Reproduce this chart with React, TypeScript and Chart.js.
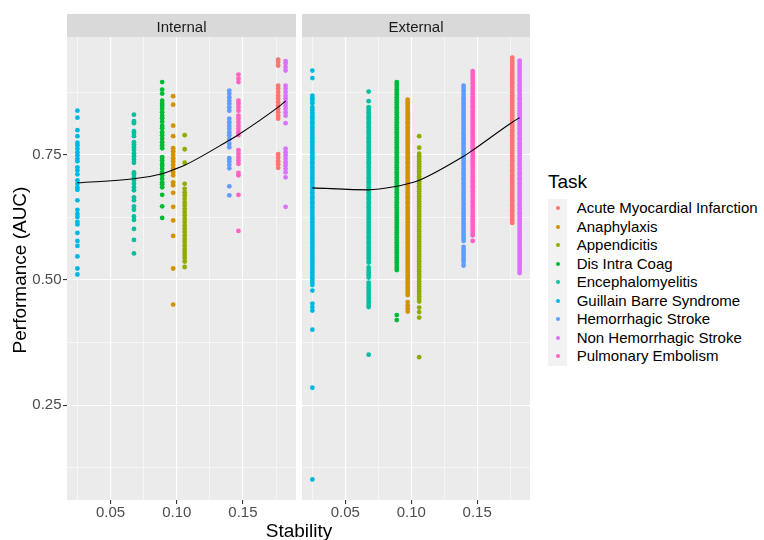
import React, { useEffect, useRef } from "react";
import { Chart, registerables } from "chart.js";
Chart.register(...registerables);

const FONT = "'Liberation Sans', Arial, Helvetica, sans-serif";

const taskNames = [
  "Acute Myocardial Infarction",
  "Anaphylaxis",
  "Appendicitis",
  "Dis Intra Coag",
  "Encephalomyelitis",
  "Guillain Barre Syndrome",
  "Hemorrhagic Stroke",
  "Non Hemorrhagic Stroke",
  "Pulmonary Embolism",
];
const taskColors = ["#F8766D", "#D39200", "#93AA00", "#00BA38", "#00C19F", "#00B9E3", "#619CFF", "#DB72FB", "#FF61C3"];
const taskStability = [0.1766, 0.0973, 0.106, 0.089, 0.0677, 0.025, 0.1397, 0.1822, 0.1466];

// Internal panel
const internalAMI = [0.94, 0.935, 0.928, 0.888, 0.882, 0.875, 0.868, 0.862, 0.855, 0.848, 0.842, 0.835, 0.828, 0.822, 0.751, 0.744, 0.737, 0.731, 0.724];
const internalAnaphylaxis = [0.867, 0.85, 0.808, 0.787, 0.763, 0.757, 0.75, 0.743, 0.737, 0.73, 0.723, 0.715, 0.709, 0.695, 0.689, 0.674, 0.646, 0.619, 0.588, 0.523, 0.451];
const internalAppendicitis = [0.789, 0.761, 0.734, 0.692, 0.682, 0.675, 0.669, 0.662, 0.655, 0.649, 0.642, 0.636, 0.629, 0.622, 0.616, 0.609, 0.602, 0.596, 0.589, 0.582, 0.576, 0.569, 0.562, 0.556, 0.55, 0.544, 0.537, 0.526];
const internalDIC = [0.895, 0.88, 0.872, 0.858, 0.852, 0.848, 0.842, 0.835, 0.828, 0.823, 0.816, 0.808, 0.803, 0.795, 0.789, 0.782, 0.775, 0.769, 0.763, 0.745, 0.739, 0.732, 0.728, 0.722, 0.715, 0.709, 0.702, 0.695, 0.691, 0.685, 0.67, 0.647, 0.624];
const internalEnceph = [0.83, 0.817, 0.813, 0.797, 0.792, 0.787, 0.775, 0.771, 0.765, 0.76, 0.753, 0.747, 0.74, 0.734, 0.715, 0.711, 0.704, 0.699, 0.692, 0.685, 0.679, 0.665, 0.659, 0.647, 0.64, 0.627, 0.62, 0.602, 0.58, 0.553];
const internalGuillain = [0.838, 0.824, 0.799, 0.787, 0.774, 0.769, 0.762, 0.755, 0.749, 0.742, 0.737, 0.725, 0.719, 0.711, 0.699, 0.692, 0.685, 0.68, 0.659, 0.64, 0.632, 0.626, 0.616, 0.611, 0.594, 0.578, 0.568, 0.547, 0.523, 0.511];
const internalHem = [0.878, 0.872, 0.865, 0.858, 0.852, 0.845, 0.838, 0.822, 0.815, 0.808, 0.802, 0.795, 0.789, 0.781, 0.772, 0.765, 0.743, 0.737, 0.73, 0.723, 0.687, 0.669];
const internalNHS = [0.937, 0.932, 0.925, 0.918, 0.888, 0.882, 0.875, 0.868, 0.862, 0.855, 0.848, 0.842, 0.835, 0.828, 0.813, 0.762, 0.755, 0.749, 0.742, 0.735, 0.729, 0.722, 0.715, 0.705, 0.646];
const internalPE = [0.91, 0.902, 0.895, 0.858, 0.852, 0.845, 0.838, 0.828, 0.822, 0.815, 0.808, 0.802, 0.795, 0.789, 0.759, 0.752, 0.745, 0.739, 0.732, 0.714, 0.709, 0.67, 0.598];

// External panel (dense columns read at ~0.005 resolution)
const externalAMI = [0.944, 0.939, 0.934, 0.929, 0.924, 0.919, 0.914, 0.909, 0.904, 0.899, 0.894, 0.889, 0.884, 0.879, 0.874, 0.869, 0.864, 0.859, 0.854, 0.849, 0.844, 0.839, 0.834, 0.829, 0.824, 0.819, 0.814, 0.809, 0.804, 0.799, 0.794, 0.789, 0.784, 0.779, 0.774, 0.769, 0.764, 0.759, 0.754, 0.749, 0.744, 0.739, 0.734, 0.729, 0.724, 0.719, 0.714, 0.709, 0.704, 0.699, 0.694, 0.689, 0.684, 0.679, 0.674, 0.669, 0.664, 0.659, 0.654, 0.649, 0.644, 0.639, 0.634, 0.629, 0.624, 0.619, 0.614];
const externalAnaphylaxis = [0.86, 0.855, 0.85, 0.845, 0.84, 0.835, 0.83, 0.825, 0.82, 0.815, 0.81, 0.805, 0.8, 0.795, 0.79, 0.785, 0.78, 0.775, 0.77, 0.765, 0.76, 0.755, 0.75, 0.745, 0.74, 0.735, 0.73, 0.725, 0.72, 0.715, 0.71, 0.705, 0.7, 0.695, 0.69, 0.685, 0.68, 0.675, 0.67, 0.665, 0.66, 0.655, 0.65, 0.645, 0.64, 0.635, 0.63, 0.625, 0.62, 0.615, 0.61, 0.605, 0.6, 0.595, 0.59, 0.585, 0.58, 0.575, 0.57, 0.565, 0.56, 0.555, 0.55, 0.545, 0.54, 0.535, 0.53, 0.525, 0.52, 0.515, 0.51, 0.505, 0.5, 0.495, 0.49, 0.485, 0.48, 0.475, 0.47, 0.456, 0.449, 0.443, 0.437];
const externalAppendicitis = [0.787, 0.764, 0.752, 0.747, 0.742, 0.737, 0.732, 0.727, 0.722, 0.717, 0.712, 0.707, 0.702, 0.697, 0.692, 0.687, 0.682, 0.677, 0.672, 0.667, 0.662, 0.657, 0.652, 0.647, 0.642, 0.637, 0.632, 0.627, 0.622, 0.617, 0.612, 0.607, 0.602, 0.597, 0.592, 0.587, 0.582, 0.577, 0.572, 0.567, 0.562, 0.557, 0.552, 0.547, 0.542, 0.537, 0.532, 0.527, 0.522, 0.517, 0.512, 0.507, 0.502, 0.497, 0.492, 0.487, 0.482, 0.477, 0.472, 0.467, 0.462, 0.457, 0.445, 0.436, 0.425, 0.346];
const externalDIC = [0.895, 0.89, 0.885, 0.88, 0.875, 0.87, 0.865, 0.86, 0.855, 0.85, 0.845, 0.84, 0.835, 0.83, 0.825, 0.82, 0.815, 0.81, 0.805, 0.8, 0.795, 0.79, 0.785, 0.78, 0.775, 0.77, 0.765, 0.76, 0.755, 0.75, 0.745, 0.74, 0.735, 0.73, 0.725, 0.72, 0.715, 0.71, 0.705, 0.7, 0.695, 0.69, 0.685, 0.68, 0.675, 0.67, 0.665, 0.66, 0.655, 0.65, 0.645, 0.64, 0.635, 0.63, 0.625, 0.62, 0.615, 0.61, 0.605, 0.6, 0.595, 0.59, 0.585, 0.58, 0.575, 0.57, 0.565, 0.56, 0.555, 0.55, 0.545, 0.54, 0.535, 0.53, 0.525, 0.52, 0.43, 0.42];
const externalEnceph = [0.876, 0.857, 0.845, 0.84, 0.835, 0.83, 0.825, 0.82, 0.815, 0.81, 0.805, 0.8, 0.795, 0.79, 0.785, 0.78, 0.775, 0.77, 0.765, 0.76, 0.755, 0.75, 0.745, 0.74, 0.735, 0.73, 0.725, 0.72, 0.715, 0.71, 0.705, 0.7, 0.695, 0.69, 0.685, 0.68, 0.675, 0.67, 0.665, 0.66, 0.655, 0.65, 0.645, 0.64, 0.635, 0.63, 0.625, 0.62, 0.615, 0.61, 0.605, 0.6, 0.595, 0.59, 0.585, 0.58, 0.575, 0.57, 0.565, 0.56, 0.555, 0.55, 0.545, 0.54, 0.535, 0.525, 0.52, 0.515, 0.51, 0.505, 0.495, 0.49, 0.485, 0.48, 0.475, 0.47, 0.465, 0.46, 0.455, 0.45, 0.446, 0.351];
const externalGuillain = [0.918, 0.903, 0.868, 0.863, 0.858, 0.853, 0.845, 0.84, 0.835, 0.83, 0.825, 0.82, 0.815, 0.81, 0.805, 0.8, 0.795, 0.79, 0.785, 0.78, 0.775, 0.77, 0.765, 0.76, 0.755, 0.75, 0.745, 0.74, 0.735, 0.73, 0.725, 0.72, 0.715, 0.71, 0.705, 0.7, 0.695, 0.69, 0.685, 0.68, 0.675, 0.67, 0.665, 0.66, 0.655, 0.65, 0.645, 0.64, 0.635, 0.63, 0.625, 0.62, 0.615, 0.61, 0.605, 0.6, 0.595, 0.59, 0.585, 0.58, 0.575, 0.57, 0.565, 0.56, 0.555, 0.55, 0.545, 0.54, 0.535, 0.53, 0.525, 0.52, 0.515, 0.51, 0.505, 0.5, 0.495, 0.49, 0.479, 0.453, 0.446, 0.439, 0.401, 0.285, 0.102];
const externalHem = [0.888, 0.883, 0.878, 0.873, 0.868, 0.863, 0.858, 0.853, 0.848, 0.843, 0.838, 0.833, 0.828, 0.823, 0.818, 0.813, 0.808, 0.803, 0.798, 0.793, 0.788, 0.783, 0.778, 0.773, 0.768, 0.763, 0.758, 0.753, 0.748, 0.743, 0.738, 0.733, 0.728, 0.723, 0.718, 0.713, 0.708, 0.703, 0.698, 0.693, 0.688, 0.683, 0.678, 0.673, 0.668, 0.663, 0.658, 0.653, 0.648, 0.643, 0.638, 0.633, 0.628, 0.623, 0.618, 0.613, 0.608, 0.603, 0.598, 0.593, 0.588, 0.583, 0.578, 0.566, 0.561, 0.556, 0.551, 0.546, 0.541, 0.536, 0.529];
const externalNHS = [0.938, 0.933, 0.928, 0.923, 0.918, 0.913, 0.908, 0.903, 0.898, 0.893, 0.888, 0.883, 0.878, 0.873, 0.868, 0.863, 0.858, 0.853, 0.848, 0.843, 0.838, 0.833, 0.828, 0.823, 0.818, 0.813, 0.808, 0.803, 0.798, 0.793, 0.788, 0.783, 0.778, 0.773, 0.768, 0.763, 0.758, 0.753, 0.748, 0.743, 0.738, 0.733, 0.728, 0.723, 0.718, 0.713, 0.708, 0.703, 0.698, 0.693, 0.688, 0.683, 0.678, 0.673, 0.668, 0.663, 0.658, 0.653, 0.648, 0.643, 0.638, 0.633, 0.628, 0.623, 0.618, 0.613, 0.608, 0.603, 0.598, 0.593, 0.588, 0.583, 0.578, 0.573, 0.568, 0.563, 0.558, 0.553, 0.548, 0.543, 0.538, 0.533, 0.528, 0.523, 0.518, 0.514];
const externalPE = [0.917, 0.912, 0.907, 0.902, 0.897, 0.892, 0.887, 0.882, 0.877, 0.872, 0.867, 0.862, 0.857, 0.852, 0.847, 0.842, 0.837, 0.832, 0.827, 0.822, 0.817, 0.812, 0.807, 0.802, 0.797, 0.792, 0.787, 0.782, 0.777, 0.772, 0.767, 0.762, 0.757, 0.752, 0.747, 0.742, 0.737, 0.732, 0.727, 0.722, 0.717, 0.712, 0.707, 0.702, 0.697, 0.692, 0.687, 0.682, 0.677, 0.672, 0.667, 0.662, 0.657, 0.652, 0.647, 0.642, 0.637, 0.632, 0.627, 0.622, 0.617, 0.612, 0.607, 0.602, 0.597, 0.592, 0.589, 0.578];

// Smoothed trend lines
const internalCurveX = [0.025, 0.0677, 0.089, 0.0973, 0.106, 0.1397, 0.1466, 0.1766, 0.1822];
const internalCurveY = [0.694, 0.702, 0.712, 0.72, 0.729, 0.779, 0.79, 0.845, 0.857];
const externalCurveX = [0.025, 0.0677, 0.089, 0.0973, 0.106, 0.1397, 0.1466, 0.1766, 0.1822];
const externalCurveY = [0.684, 0.68, 0.687, 0.692, 0.699, 0.747, 0.759, 0.815, 0.824];

const xTickValues = [0.025, 0.05, 0.075, 0.1, 0.125, 0.15, 0.175];
const xMajorTicks = [0.05, 0.1, 0.15];
const yTickValues = [0.125, 0.25, 0.375, 0.5, 0.625, 0.75, 0.875];
const yMajorTicks = [0.25, 0.5, 0.75];

const X_MIN = 0.01714;
const X_MAX = 0.19006;
const Y_MIN = 0.061;
const Y_MAX = 0.985;

const internalValues = [internalAMI, internalAnaphylaxis, internalAppendicitis, internalDIC, internalEnceph, internalGuillain, internalHem, internalNHS, internalPE];
const externalValues = [externalAMI, externalAnaphylaxis, externalAppendicitis, externalDIC, externalEnceph, externalGuillain, externalHem, externalNHS, externalPE];

const isMajor = (v: number, majors: number[]) => majors.some((m) => Math.abs(m - v) < 1e-9);

function panelPlugin(strip: string, drawYTitle: boolean) {
  return {
    id: "panel_" + strip,
    beforeDraw(chart: any) {
      const { ctx, chartArea } = chart;
      ctx.save();
      ctx.fillStyle = "#EBEBEB";
      ctx.fillRect(chartArea.left, chartArea.top, chartArea.right - chartArea.left, chartArea.bottom - chartArea.top);
      ctx.restore();
    },
    afterDraw(chart: any) {
      const { ctx, chartArea } = chart;
      ctx.save();
      ctx.fillStyle = "#D9D9D9";
      ctx.fillRect(chartArea.left, 14, chartArea.right - chartArea.left, chartArea.top - 14);
      ctx.fillStyle = "#1A1A1A";
      ctx.font = `15px ${FONT}`;
      ctx.textAlign = "center";
      ctx.textBaseline = "alphabetic";
      ctx.fillText(strip, (chartArea.left + chartArea.right) / 2, 31.5);
      if (drawYTitle) {
        ctx.translate(25.5, 270);
        ctx.rotate(-Math.PI / 2);
        ctx.fillStyle = "#000000";
        ctx.font = `19px ${FONT}`;
        ctx.fillText("Performance (AUC)", 0, 0);
      }
      ctx.restore();
    },
  };
}

function buildConfig(values: number[][], curveX: number[], curveY: number[], strip: string, isLeft: boolean): any {
  const datasets: any[] = [
    {
      type: "line",
      data: curveX.map((x, i) => ({ x, y: curveY[i] })),
      borderColor: "#000000",
      borderWidth: 1.1,
      pointRadius: 0,
      cubicInterpolationMode: "monotone",
      fill: false,
      order: -1,
    },
  ];
  taskNames.forEach((name, t) => {
    datasets.push({
      type: "scatter",
      label: name,
      data: values[t].map((y) => ({ x: taskStability[t], y })),
      backgroundColor: taskColors[t],
      borderWidth: 0,
      pointRadius: 2.4,
      order: 1,
    });
  });
  return {
    type: "scatter",
    data: { datasets },
    options: {
      animation: false,
      responsive: false,
      events: [],
      layout: { padding: { left: 0, right: isLeft ? 4 : 3, top: 37, bottom: 0 } },
      plugins: { legend: { display: false }, tooltip: { enabled: false } },
      scales: {
        x: {
          type: "linear",
          min: X_MIN,
          max: X_MAX,
          afterBuildTicks: (scale: any) => {
            scale.ticks = xTickValues.map((v) => ({ value: v }));
          },
          afterFit: (scale: any) => {
            scale.height = 40;
          },
          border: { display: false },
          grid: {
            color: "#FFFFFF",
            lineWidth: (c: any) => (isMajor(c.tick?.value, xMajorTicks) ? 1.1 : 0.55),
            tickColor: (c: any) => (isMajor(c.tick?.value, xMajorTicks) ? "#333333" : "rgba(0,0,0,0)"),
            tickWidth: 1.1,
            tickLength: 4,
          },
          ticks: {
            autoSkip: false,
            maxRotation: 0,
            padding: 0,
            color: "#4D4D4D",
            font: { family: FONT, size: 15 },
            callback: (v: any) => (isMajor(Number(v), xMajorTicks) ? Number(v).toFixed(2) : ""),
          },
        },
        y: {
          type: "linear",
          min: Y_MIN,
          max: Y_MAX,
          afterBuildTicks: (scale: any) => {
            scale.ticks = yTickValues.map((v) => ({ value: v }));
          },
          afterFit: (scale: any) => {
            scale.width = isLeft ? 67 : 4;
          },
          border: { display: false },
          grid: {
            color: "#FFFFFF",
            lineWidth: (c: any) => (isMajor(c.tick?.value, yMajorTicks) ? 1.1 : 0.55),
            tickColor: (c: any) => (isLeft && isMajor(c.tick?.value, yMajorTicks) ? "#333333" : "rgba(0,0,0,0)"),
            tickWidth: 1.1,
            tickLength: 4,
            drawTicks: isLeft,
          },
          ticks: {
            display: isLeft,
            autoSkip: false,
            padding: 1.5,
            color: "#4D4D4D",
            font: { family: FONT, size: 15 },
            callback: (v: any) => (isMajor(Number(v), yMajorTicks) ? Number(v).toFixed(2) : ""),
          },
        },
      },
    },
    plugins: [panelPlugin(strip, isLeft)],
  };
}

export default function App() {
  const leftRef = useRef<HTMLCanvasElement>(null);
  const rightRef = useRef<HTMLCanvasElement>(null);

  useEffect(() => {
    document.body.style.margin = "0";
    const left = new Chart(leftRef.current as HTMLCanvasElement, buildConfig(internalValues, internalCurveX, internalCurveY, "Internal", true));
    const right = new Chart(rightRef.current as HTMLCanvasElement, buildConfig(externalValues, externalCurveX, externalCurveY, "External", false));
    return () => {
      left.destroy();
      right.destroy();
    };
  }, []);

  return (
    <div style={{ position: "relative", width: 764, height: 540, background: "#FFFFFF", fontFamily: FONT, overflow: "hidden" }}>
      <canvas ref={leftRef} width={300} height={540} style={{ position: "absolute", left: 0, top: 0, width: 300, height: 540 }} />
      <canvas ref={rightRef} width={236} height={540} style={{ position: "absolute", left: 298, top: 0, width: 236, height: 540 }} />
      <div style={{ position: "absolute", left: 0, width: 598, top: 521, textAlign: "center", fontSize: 19, lineHeight: "19px", color: "#000" }}>Stability</div>
      <div style={{ position: "absolute", left: 548, top: 172, fontSize: 19, lineHeight: "19px", color: "#000" }}>Task</div>
      <div style={{ position: "absolute", left: 548, top: 199 }}>
        {taskNames.map((name, i) => (
          <div key={name} style={{ display: "flex", alignItems: "center", height: 18.5 }}>
            <div style={{ width: 19, height: 18.5, background: "#F2F2F2", position: "relative" }}>
              <div style={{ position: "absolute", left: 8.2, top: 7.15, width: 4.2, height: 4.2, borderRadius: 2.1, background: taskColors[i] }} />
            </div>
            <span style={{ marginLeft: 9.7, fontSize: 15, lineHeight: "18.5px", color: "#000", whiteSpace: "nowrap" }}>{name}</span>
          </div>
        ))}
      </div>
    </div>
  );
}
